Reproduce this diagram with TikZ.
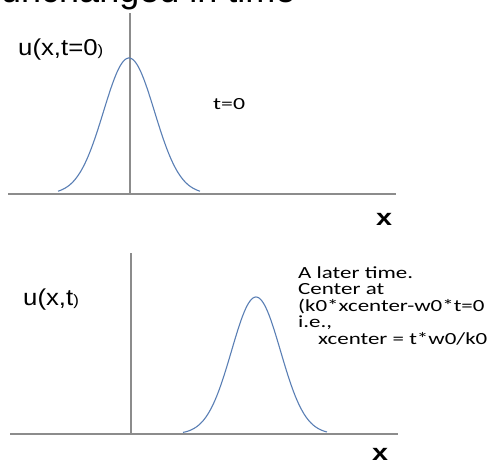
\documentclass[tikz,border=0pt]{standalone}
\usepackage{fontspec}
\setmainfont{Liberation Sans}
\newfontfamily\carlitofont{Carlito}
\definecolor{axisgray}{RGB}{140,140,140}
\definecolor{curveblue}{RGB}{90,127,181}
\tikzset{
  axisline/.style={draw=axisgray, line width=1.1pt},
  curveline/.style={draw=curveblue, line width=1.1pt},
  lbl/.style={inner sep=0pt, anchor=base west, font=\fontsize{23}{26}\selectfont},
  xlbl/.style={inner sep=0pt, anchor=base, font=\fontsize{23}{26}\selectfont},
  note/.style={inner sep=0pt, anchor=base west, font=\carlitofont\fontsize{17}{19}\selectfont}
}
\newcommand{\smp}{{\fontsize{15}{17}\selectfont)}}
\begin{document}
\begin{tikzpicture}[x=1pt,y=-1pt]
\useasboundingbox (0,0) rectangle (493,464);
\clip (0,0) rectangle (493,464);
\fill[white] (0,0) rectangle (493,464);
% title (cut off at the top)
\node[inner sep=0pt, anchor=base west, font=\fontsize{36}{40}\selectfont] (title) at (1,2) {unchanged in time};
% top plot
\coordinate (t1) at (130,13);
\coordinate (t2) at (130,194);
\coordinate (h1) at (8,194);
\coordinate (h2) at (396,194);
\draw[axisline] (t1) -- (t2);
\draw[axisline] (h1) -- (h2);
\draw[curveline] plot[domain=58:200, samples=100] (\x, {194-136*exp(-((\x-129)/25.5)^2/2)});
\node[lbl] (u0) at (18,55) {\scalebox{1.12}[1]{u(x,t=0\smp}};
\node[note] (t0) at (213,109) {\scalebox{1.4}[1]{t=0}};
\node[xlbl] (x1) at (384,225) {\scalebox{1.25}[1]{\textbf{x}}};
% bottom plot
\coordinate (b1) at (131,253);
\coordinate (b2) at (131,434);
\coordinate (g1) at (10,434);
\coordinate (g2) at (398,434);
\draw[axisline] (b1) -- (b2);
\draw[axisline] (g1) -- (g2);
\draw[curveline] plot[domain=183:327, samples=100] (\x, {434-137*exp(-((\x-256)/24.5)^2/2)});
\node[lbl] (ut) at (23,305) {\scalebox{1.12}[1]{u(x,t\smp}};
\node[note] (n1) at (298,278) {\scalebox{1.35}[1]{A later time.}};
\node[note] (n2) at (298,294) {\scalebox{1.35}[1]{Center at}};
\node[note] (n3) at (298,311) {\scalebox{1.35}[1]{(k0*xcenter-w0*t=0}};
\node[note] (n4) at (298,327) {\scalebox{1.35}[1]{i.e.,}};
\node[note] (n5) at (318,344) {\scalebox{1.35}[1]{xcenter = t*w0/k0}};
\node[xlbl] (x2) at (380,460) {\scalebox{1.25}[1]{\textbf{x}}};
\end{tikzpicture}
\end{document}
